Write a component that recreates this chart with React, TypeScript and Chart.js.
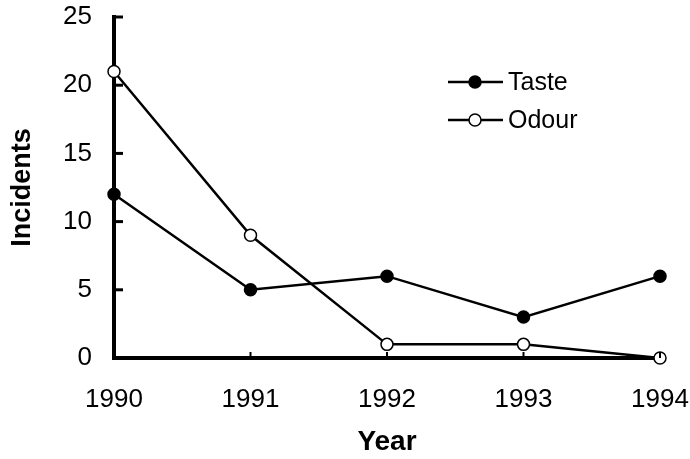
import React, { useEffect, useRef } from "react";
import { Chart, registerables } from "chart.js";

Chart.register(...registerables);

const years = ["1990", "1991", "1992", "1993", "1994"];
const tasteValues = [12, 5, 6, 3, 6];
const odourValues = [21, 9, 1, 1, 0];
const yMin = 0;
const yMax = 25;
const yStep = 5;

const FONT = "'Liberation Sans', Arial, sans-serif";

const innerTicks = {
  id: "innerTicks",
  afterDraw(chart: any) {
    const ctx = chart.ctx;
    const { x, y } = chart.scales;
    ctx.save();
    ctx.strokeStyle = "#000";
    ctx.lineCap = "butt";
    ctx.lineWidth = 3;
    y.ticks.forEach((t: any) => {
      if (t.value === yMin) return;
      const py = y.getPixelForValue(t.value);
      ctx.beginPath();
      ctx.moveTo(y.right, py);
      ctx.lineTo(y.right + 9, py);
      ctx.stroke();
    });
    ctx.lineWidth = 2;
    x.ticks.forEach((_t: any, i: number) => {
      if (i === 0) return;
      const px = x.getPixelForTick(i);
      ctx.beginPath();
      ctx.moveTo(px, x.top);
      ctx.lineTo(px, x.top - 6);
      ctx.stroke();
    });
    ctx.restore();
  },
};

const insideLegend = {
  id: "insideLegend",
  afterDraw(chart: any) {
    const ctx = chart.ctx;
    const x0 = 448;
    const ys = [82, 120];
    ctx.save();
    chart.data.datasets.forEach((ds: any, i: number) => {
      const y = ys[i];
      ctx.strokeStyle = "#000";
      ctx.lineWidth = 2.5;
      ctx.beginPath();
      ctx.moveTo(x0, y);
      ctx.lineTo(x0 + 55, y);
      ctx.stroke();
      ctx.beginPath();
      ctx.arc(x0 + 27, y, 6, 0, Math.PI * 2);
      ctx.fillStyle = ds.pointBackgroundColor;
      ctx.fill();
      ctx.lineWidth = 1.5;
      ctx.stroke();
      ctx.fillStyle = "#000";
      ctx.font = `25px ${FONT}`;
      ctx.textBaseline = "middle";
      ctx.textAlign = "left";
      ctx.fillText(ds.label, x0 + 60, y + 1);
    });
    ctx.restore();
  },
};

export default function App() {
  const ref = useRef<HTMLCanvasElement>(null);
  useEffect(() => {
    if (!ref.current) return;
    const chart = new Chart(ref.current, {
      type: "line",
      data: {
        labels: years,
        datasets: [
          {
            label: "Taste",
            data: tasteValues,
            borderColor: "#000",
            borderWidth: 2.5,
            pointRadius: 6,
            pointBackgroundColor: "#000",
            pointBorderColor: "#000",
            pointBorderWidth: 1.5,
            clip: false as any,
          },
          {
            label: "Odour",
            data: odourValues,
            borderColor: "#000",
            borderWidth: 2.5,
            pointRadius: 6,
            pointBackgroundColor: "#fff",
            pointBorderColor: "#000",
            pointBorderWidth: 1.5,
            clip: false as any,
          },
        ],
      },
      options: {
        responsive: false,
        animation: false,
        layout: { padding: { top: 17, right: 30, left: 0, bottom: 0 } },
        plugins: {
          legend: { display: false },
          tooltip: { enabled: false },
        },
        scales: {
          x: {
            type: "category",
            offset: false,
            afterFit: (s: any) => {
              s.height = 101;
              s.paddingLeft = 0;
              s.paddingRight = 0;
            },
            border: { display: true, color: "#000", width: 4 },
            grid: {
              drawOnChartArea: false,
              drawTicks: false,
            },
            ticks: {
              color: "#000",
              padding: 26,
              font: { family: FONT, size: 26 },
              maxRotation: 0,
            },
            title: {
              display: true,
              text: "Year",
              color: "#000",
              font: { family: FONT, size: 28, weight: "bold" },
              padding: { top: 0, bottom: 0 },
            },
          },
          y: {
            min: yMin,
            max: yMax,
            afterFit: (s: any) => {
              s.width = 114;
              s.paddingTop = 0;
              s.paddingBottom = 0;
            },
            border: { display: true, color: "#000", width: 4 },
            grid: {
              drawOnChartArea: false,
              drawTicks: false,
            },
            ticks: {
              stepSize: yStep,
              color: "#000",
              padding: 22,
              font: { family: FONT, size: 26 },
            },
            title: {
              display: true,
              text: "Incidents",
              color: "#000",
              font: { family: FONT, size: 27, weight: "bold" },
              padding: { top: 6, bottom: 0 },
            },
          },
        },
      },
      plugins: [innerTicks, insideLegend],
    });
    return () => chart.destroy();
  }, []);
  return (
    <div style={{ position: "fixed", left: 0, top: 0, width: 690, height: 459, background: "#fff" }}>
      <canvas ref={ref} width={690} height={459} style={{ width: 690, height: 459 }} />
    </div>
  );
}
